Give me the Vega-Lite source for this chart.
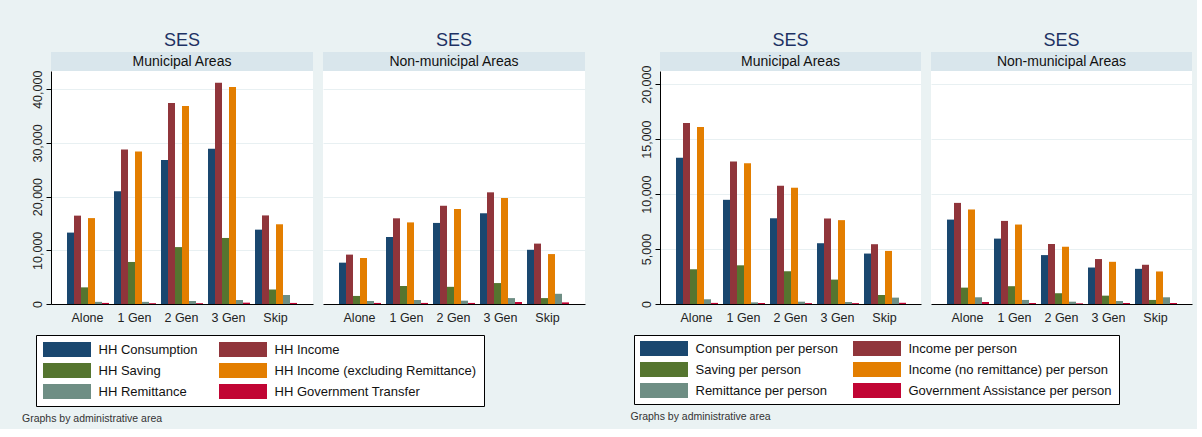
{
  "$schema": "https://vega.github.io/schema/vega-lite/v6.json",
  "background": "#eaf2f3",
  "padding": {"left": 21, "top": 32, "right": 5, "bottom": 5},
  "datasets": {
    "hh": [
      {"area":"Municipal Areas","type":"Alone","m":"HH Consumption","v":13300},
      {"area":"Municipal Areas","type":"Alone","m":"HH Income","v":16460},
      {"area":"Municipal Areas","type":"Alone","m":"HH Saving","v":3100},
      {"area":"Municipal Areas","type":"Alone","m":"HH Income (excluding Remittance)","v":16000},
      {"area":"Municipal Areas","type":"Alone","m":"HH Remittance","v":400},
      {"area":"Municipal Areas","type":"Alone","m":"HH Government Transfer","v":200},
      {"area":"Municipal Areas","type":"1 Gen","m":"HH Consumption","v":21000},
      {"area":"Municipal Areas","type":"1 Gen","m":"HH Income","v":28800},
      {"area":"Municipal Areas","type":"1 Gen","m":"HH Saving","v":7830},
      {"area":"Municipal Areas","type":"1 Gen","m":"HH Income (excluding Remittance)","v":28400},
      {"area":"Municipal Areas","type":"1 Gen","m":"HH Remittance","v":400},
      {"area":"Municipal Areas","type":"1 Gen","m":"HH Government Transfer","v":150},
      {"area":"Municipal Areas","type":"2 Gen","m":"HH Consumption","v":26800},
      {"area":"Municipal Areas","type":"2 Gen","m":"HH Income","v":37450},
      {"area":"Municipal Areas","type":"2 Gen","m":"HH Saving","v":10600},
      {"area":"Municipal Areas","type":"2 Gen","m":"HH Income (excluding Remittance)","v":36900},
      {"area":"Municipal Areas","type":"2 Gen","m":"HH Remittance","v":560},
      {"area":"Municipal Areas","type":"2 Gen","m":"HH Government Transfer","v":150},
      {"area":"Municipal Areas","type":"3 Gen","m":"HH Consumption","v":28900},
      {"area":"Municipal Areas","type":"3 Gen","m":"HH Income","v":41200},
      {"area":"Municipal Areas","type":"3 Gen","m":"HH Saving","v":12300},
      {"area":"Municipal Areas","type":"3 Gen","m":"HH Income (excluding Remittance)","v":40400},
      {"area":"Municipal Areas","type":"3 Gen","m":"HH Remittance","v":750},
      {"area":"Municipal Areas","type":"3 Gen","m":"HH Government Transfer","v":250},
      {"area":"Municipal Areas","type":"Skip","m":"HH Consumption","v":13850},
      {"area":"Municipal Areas","type":"Skip","m":"HH Income","v":16500},
      {"area":"Municipal Areas","type":"Skip","m":"HH Saving","v":2700},
      {"area":"Municipal Areas","type":"Skip","m":"HH Income (excluding Remittance)","v":14850},
      {"area":"Municipal Areas","type":"Skip","m":"HH Remittance","v":1680},
      {"area":"Municipal Areas","type":"Skip","m":"HH Government Transfer","v":200},
      {"area":"Non-municipal Areas","type":"Alone","m":"HH Consumption","v":7700},
      {"area":"Non-municipal Areas","type":"Alone","m":"HH Income","v":9200},
      {"area":"Non-municipal Areas","type":"Alone","m":"HH Saving","v":1500},
      {"area":"Non-municipal Areas","type":"Alone","m":"HH Income (excluding Remittance)","v":8570},
      {"area":"Non-municipal Areas","type":"Alone","m":"HH Remittance","v":560},
      {"area":"Non-municipal Areas","type":"Alone","m":"HH Government Transfer","v":200},
      {"area":"Non-municipal Areas","type":"1 Gen","m":"HH Consumption","v":12480},
      {"area":"Non-municipal Areas","type":"1 Gen","m":"HH Income","v":15960},
      {"area":"Non-municipal Areas","type":"1 Gen","m":"HH Saving","v":3350},
      {"area":"Non-municipal Areas","type":"1 Gen","m":"HH Income (excluding Remittance)","v":15200},
      {"area":"Non-municipal Areas","type":"1 Gen","m":"HH Remittance","v":750},
      {"area":"Non-municipal Areas","type":"1 Gen","m":"HH Government Transfer","v":200},
      {"area":"Non-municipal Areas","type":"2 Gen","m":"HH Consumption","v":15100},
      {"area":"Non-municipal Areas","type":"2 Gen","m":"HH Income","v":18300},
      {"area":"Non-municipal Areas","type":"2 Gen","m":"HH Saving","v":3200},
      {"area":"Non-municipal Areas","type":"2 Gen","m":"HH Income (excluding Remittance)","v":17700},
      {"area":"Non-municipal Areas","type":"2 Gen","m":"HH Remittance","v":620},
      {"area":"Non-municipal Areas","type":"2 Gen","m":"HH Government Transfer","v":200},
      {"area":"Non-municipal Areas","type":"3 Gen","m":"HH Consumption","v":16900},
      {"area":"Non-municipal Areas","type":"3 Gen","m":"HH Income","v":20800},
      {"area":"Non-municipal Areas","type":"3 Gen","m":"HH Saving","v":3900},
      {"area":"Non-municipal Areas","type":"3 Gen","m":"HH Income (excluding Remittance)","v":19750},
      {"area":"Non-municipal Areas","type":"3 Gen","m":"HH Remittance","v":1100},
      {"area":"Non-municipal Areas","type":"3 Gen","m":"HH Government Transfer","v":370},
      {"area":"Non-municipal Areas","type":"Skip","m":"HH Consumption","v":10100},
      {"area":"Non-municipal Areas","type":"Skip","m":"HH Income","v":11250},
      {"area":"Non-municipal Areas","type":"Skip","m":"HH Saving","v":1100},
      {"area":"Non-municipal Areas","type":"Skip","m":"HH Income (excluding Remittance)","v":9300},
      {"area":"Non-municipal Areas","type":"Skip","m":"HH Remittance","v":1900},
      {"area":"Non-municipal Areas","type":"Skip","m":"HH Government Transfer","v":300}
    ],
    "pp": [
      {"area":"Municipal Areas","type":"Alone","m":"Consumption per person","v":13300},
      {"area":"Municipal Areas","type":"Alone","m":"Income per person","v":16460},
      {"area":"Municipal Areas","type":"Alone","m":"Saving per person","v":3160},
      {"area":"Municipal Areas","type":"Alone","m":"Income (no remittance) per person","v":16100},
      {"area":"Municipal Areas","type":"Alone","m":"Remittance per person","v":430},
      {"area":"Municipal Areas","type":"Alone","m":"Government Assistance per person","v":100},
      {"area":"Municipal Areas","type":"1 Gen","m":"Consumption per person","v":9480},
      {"area":"Municipal Areas","type":"1 Gen","m":"Income per person","v":12970},
      {"area":"Municipal Areas","type":"1 Gen","m":"Saving per person","v":3520},
      {"area":"Municipal Areas","type":"1 Gen","m":"Income (no remittance) per person","v":12800},
      {"area":"Municipal Areas","type":"1 Gen","m":"Remittance per person","v":150},
      {"area":"Municipal Areas","type":"1 Gen","m":"Government Assistance per person","v":90},
      {"area":"Municipal Areas","type":"2 Gen","m":"Consumption per person","v":7800},
      {"area":"Municipal Areas","type":"2 Gen","m":"Income per person","v":10760},
      {"area":"Municipal Areas","type":"2 Gen","m":"Saving per person","v":2980},
      {"area":"Municipal Areas","type":"2 Gen","m":"Income (no remittance) per person","v":10580},
      {"area":"Municipal Areas","type":"2 Gen","m":"Remittance per person","v":210},
      {"area":"Municipal Areas","type":"2 Gen","m":"Government Assistance per person","v":80},
      {"area":"Municipal Areas","type":"3 Gen","m":"Consumption per person","v":5530},
      {"area":"Municipal Areas","type":"3 Gen","m":"Income per person","v":7780},
      {"area":"Municipal Areas","type":"3 Gen","m":"Saving per person","v":2220},
      {"area":"Municipal Areas","type":"3 Gen","m":"Income (no remittance) per person","v":7630},
      {"area":"Municipal Areas","type":"3 Gen","m":"Remittance per person","v":180},
      {"area":"Municipal Areas","type":"3 Gen","m":"Government Assistance per person","v":80},
      {"area":"Municipal Areas","type":"Skip","m":"Consumption per person","v":4590},
      {"area":"Municipal Areas","type":"Skip","m":"Income per person","v":5440},
      {"area":"Municipal Areas","type":"Skip","m":"Saving per person","v":820},
      {"area":"Municipal Areas","type":"Skip","m":"Income (no remittance) per person","v":4830},
      {"area":"Municipal Areas","type":"Skip","m":"Remittance per person","v":580},
      {"area":"Municipal Areas","type":"Skip","m":"Government Assistance per person","v":110},
      {"area":"Non-municipal Areas","type":"Alone","m":"Consumption per person","v":7680},
      {"area":"Non-municipal Areas","type":"Alone","m":"Income per person","v":9200},
      {"area":"Non-municipal Areas","type":"Alone","m":"Saving per person","v":1490},
      {"area":"Non-municipal Areas","type":"Alone","m":"Income (no remittance) per person","v":8600},
      {"area":"Non-municipal Areas","type":"Alone","m":"Remittance per person","v":610},
      {"area":"Non-municipal Areas","type":"Alone","m":"Government Assistance per person","v":180},
      {"area":"Non-municipal Areas","type":"1 Gen","m":"Consumption per person","v":5950},
      {"area":"Non-municipal Areas","type":"1 Gen","m":"Income per person","v":7560},
      {"area":"Non-municipal Areas","type":"1 Gen","m":"Saving per person","v":1620},
      {"area":"Non-municipal Areas","type":"1 Gen","m":"Income (no remittance) per person","v":7230},
      {"area":"Non-municipal Areas","type":"1 Gen","m":"Remittance per person","v":370},
      {"area":"Non-municipal Areas","type":"1 Gen","m":"Government Assistance per person","v":90},
      {"area":"Non-municipal Areas","type":"2 Gen","m":"Consumption per person","v":4450},
      {"area":"Non-municipal Areas","type":"2 Gen","m":"Income per person","v":5460},
      {"area":"Non-municipal Areas","type":"2 Gen","m":"Saving per person","v":980},
      {"area":"Non-municipal Areas","type":"2 Gen","m":"Income (no remittance) per person","v":5210},
      {"area":"Non-municipal Areas","type":"2 Gen","m":"Remittance per person","v":210},
      {"area":"Non-municipal Areas","type":"2 Gen","m":"Government Assistance per person","v":60},
      {"area":"Non-municipal Areas","type":"3 Gen","m":"Consumption per person","v":3320},
      {"area":"Non-municipal Areas","type":"3 Gen","m":"Income per person","v":4090},
      {"area":"Non-municipal Areas","type":"3 Gen","m":"Saving per person","v":760},
      {"area":"Non-municipal Areas","type":"3 Gen","m":"Income (no remittance) per person","v":3840},
      {"area":"Non-municipal Areas","type":"3 Gen","m":"Remittance per person","v":270},
      {"area":"Non-municipal Areas","type":"3 Gen","m":"Government Assistance per person","v":90},
      {"area":"Non-municipal Areas","type":"Skip","m":"Consumption per person","v":3200},
      {"area":"Non-municipal Areas","type":"Skip","m":"Income per person","v":3570},
      {"area":"Non-municipal Areas","type":"Skip","m":"Saving per person","v":370},
      {"area":"Non-municipal Areas","type":"Skip","m":"Income (no remittance) per person","v":2960},
      {"area":"Non-municipal Areas","type":"Skip","m":"Remittance per person","v":610},
      {"area":"Non-municipal Areas","type":"Skip","m":"Government Assistance per person","v":90}
    ]
  },
  "spacing": 45,
  "resolve": {"scale": {"color": "independent", "y": "independent", "x": "independent", "xOffset": "independent"}, "legend": {"color": "independent"}},
  "hconcat": [
    {
      "title": {"text": "Graphs by administrative area", "orient": "bottom", "anchor": "start", "fontSize": 10.5, "fontWeight": "normal", "color": "#333333", "font": "Liberation Sans", "offset": 7, "dx": -9},
      "spacing": 10,
      "resolve": {"scale": {"color": "shared", "y": "independent", "x": "independent", "xOffset": "independent"}, "legend": {"color": "shared"}},
      "hconcat": [
        {
          "spacing": 0, "bounds": "flush",
          "resolve": {"scale": {"color": "shared"}, "legend": {"color": "shared"}},
          "vconcat": [
            {
              "title": {"text": "SES", "fontSize": 18, "fontWeight": "normal", "color": "#1e3264", "font": "Liberation Sans", "offset": 2, "anchor": "middle", "frame": "group"},
              "width": 262, "height": 19,
              "data": {"values": [{"area": "Municipal Areas"}]},
              "view": {"fill": "#d9e6ec", "stroke": null},
              "mark": {"type": "text", "font": "Liberation Sans", "fontSize": 14, "color": "#111111"},
              "encoding": {"text": {"field": "area", "type": "nominal"}}
            },
            {
              "width": 262, "height": 233,
              "data": {"name": "hh"},
              "transform": [{"filter": "datum.area == 'Municipal Areas'"}],
              "view": {"fill": "white", "stroke": null},
              "mark": {"type": "bar", "width": {"band": 1}},
              "encoding": {
                "x": {"field": "type", "type": "nominal", "sort": ["Alone","1 Gen","2 Gen","3 Gen","Skip"], "scale": {"paddingInner": 0.085, "paddingOuter": 0.31, "round": true},
                      "axis": {"title": null, "ticks": false, "tickSize": 0, "labelAngle": 0, "labelFont": "Liberation Sans", "labelFontSize": 12.5, "labelColor": "#222222", "labelPadding": 7, "domainColor": "black", "grid": false}},
                "xOffset": {"field": "m", "type": "nominal", "sort": ["HH Consumption","HH Income","HH Saving","HH Income (excluding Remittance)","HH Remittance","HH Government Transfer"], "scale": {"paddingInner": 0, "paddingOuter": 0, "round": true}},
                "y": {"field": "v", "type": "quantitative", "scale": {"domain": [0, 43400], "nice": false},
                      "axis": {"title": null, "values": [0, 10000, 20000, 30000, 40000], "format": ",d", "labelAngle": 270, "labelAlign": "center", "labelBaseline": "bottom", "labelFont": "Liberation Sans", "labelFontSize": 12.5, "labelColor": "#222222", "labelPadding": 2, "tickSize": 5, "tickColor": "black", "domainColor": "black", "grid": true, "gridColor": "#e8f0f2"}},
                "color": {"field": "m", "type": "nominal",
                          "scale": {"domain": ["HH Consumption","HH Income","HH Saving","HH Income (excluding Remittance)","HH Remittance","HH Government Transfer"], "range": ["#1a476f","#90353b","#55752f","#e37e00","#6e8e84","#c10534"]},
                          "legend": {"title": null, "orient": "none", "legendX": -15, "legendY": 283, "direction": "horizontal", "columns": 2, "symbolType": "M-3.2,-1H3.2V1H-3.2Z", "symbolSize": 225, "symbolStrokeWidth": 0, "symbolOffset": 16.5, "labelOffset": 24, "labelFont": "Liberation Sans", "labelFontSize": 13, "labelColor": "#111111", "labelLimit": 400, "columnPadding": 21, "rowPadding": 6, "padding": 7, "fillColor": "white", "strokeColor": "black"}}
              }
            }
          ]
        },
        {
          "spacing": 0, "bounds": "flush",
          "resolve": {"scale": {"color": "shared"}, "legend": {"color": "shared"}},
          "vconcat": [
            {
              "title": {"text": "SES", "fontSize": 18, "fontWeight": "normal", "color": "#1e3264", "font": "Liberation Sans", "offset": 2, "anchor": "middle", "frame": "group"},
              "width": 262, "height": 19,
              "data": {"values": [{"area": "Non-municipal Areas"}]},
              "view": {"fill": "#d9e6ec", "stroke": null},
              "mark": {"type": "text", "font": "Liberation Sans", "fontSize": 14, "color": "#111111"},
              "encoding": {"text": {"field": "area", "type": "nominal"}}
            },
            {
              "width": 262, "height": 233,
              "data": {"name": "hh"},
              "transform": [{"filter": "datum.area == 'Non-municipal Areas'"}],
              "view": {"fill": "white", "stroke": null},
              "mark": {"type": "bar", "width": {"band": 1}},
              "encoding": {
                "x": {"field": "type", "type": "nominal", "sort": ["Alone","1 Gen","2 Gen","3 Gen","Skip"], "scale": {"paddingInner": 0.085, "paddingOuter": 0.31, "round": true},
                      "axis": {"title": null, "ticks": false, "tickSize": 0, "labelAngle": 0, "labelFont": "Liberation Sans", "labelFontSize": 12.5, "labelColor": "#222222", "labelPadding": 7, "domainColor": "black", "grid": false}},
                "xOffset": {"field": "m", "type": "nominal", "sort": ["HH Consumption","HH Income","HH Saving","HH Income (excluding Remittance)","HH Remittance","HH Government Transfer"], "scale": {"paddingInner": 0, "paddingOuter": 0, "round": true}},
                "y": {"field": "v", "type": "quantitative", "scale": {"domain": [0, 43400], "nice": false},
                      "axis": {"title": null, "values": [0, 10000, 20000, 30000, 40000], "labels": false, "ticks": false, "domain": false, "grid": true, "gridColor": "#e8f0f2"}},
                "color": {"field": "m", "type": "nominal",
                          "scale": {"domain": ["HH Consumption","HH Income","HH Saving","HH Income (excluding Remittance)","HH Remittance","HH Government Transfer"], "range": ["#1a476f","#90353b","#55752f","#e37e00","#6e8e84","#c10534"]},
                          "legend": {"title": null, "orient": "none", "legendX": -15, "legendY": 283, "direction": "horizontal", "columns": 2, "symbolType": "M-3.2,-1H3.2V1H-3.2Z", "symbolSize": 225, "symbolStrokeWidth": 0, "symbolOffset": 16.5, "labelOffset": 24, "labelFont": "Liberation Sans", "labelFontSize": 13, "labelColor": "#111111", "labelLimit": 400, "columnPadding": 21, "rowPadding": 6, "padding": 7, "fillColor": "white", "strokeColor": "black"}}
              }
            }
          ]
        }
      ]
    },
    {
      "title": {"text": "Graphs by administrative area", "orient": "bottom", "anchor": "start", "fontSize": 10.5, "fontWeight": "normal", "color": "#333333", "font": "Liberation Sans", "offset": 7, "dx": -3},
      "spacing": 10,
      "resolve": {"scale": {"color": "shared", "y": "independent", "x": "independent", "xOffset": "independent"}, "legend": {"color": "shared"}},
      "hconcat": [
        {
          "spacing": 0, "bounds": "flush",
          "resolve": {"scale": {"color": "shared"}, "legend": {"color": "shared"}},
          "vconcat": [
            {
              "title": {"text": "SES", "fontSize": 18, "fontWeight": "normal", "color": "#1e3264", "font": "Liberation Sans", "offset": 2, "anchor": "middle", "frame": "group"},
              "width": 261, "height": 19,
              "data": {"values": [{"area": "Municipal Areas"}]},
              "view": {"fill": "#d9e6ec", "stroke": null},
              "mark": {"type": "text", "font": "Liberation Sans", "fontSize": 14, "color": "#111111"},
              "encoding": {"text": {"field": "area", "type": "nominal"}}
            },
            {
              "width": 261, "height": 233,
              "data": {"name": "pp"},
              "transform": [{"filter": "datum.area == 'Municipal Areas'"}],
              "view": {"fill": "white", "stroke": null},
              "mark": {"type": "bar", "width": {"band": 1}},
              "encoding": {
                "x": {"field": "type", "type": "nominal", "sort": ["Alone","1 Gen","2 Gen","3 Gen","Skip"], "scale": {"paddingInner": 0.085, "paddingOuter": 0.31, "round": true},
                      "axis": {"title": null, "ticks": false, "tickSize": 0, "labelAngle": 0, "labelFont": "Liberation Sans", "labelFontSize": 12.5, "labelColor": "#222222", "labelPadding": 7, "domainColor": "black", "grid": false}},
                "xOffset": {"field": "m", "type": "nominal", "sort": ["Consumption per person","Income per person","Saving per person","Income (no remittance) per person","Remittance per person","Government Assistance per person"], "scale": {"paddingInner": 0, "paddingOuter": 0, "round": true}},
                "y": {"field": "v", "type": "quantitative", "scale": {"domain": [0, 21200], "nice": false},
                      "axis": {"title": null, "values": [0, 5000, 10000, 15000, 20000], "format": ",d", "labelAngle": 270, "labelAlign": "center", "labelBaseline": "bottom", "labelFont": "Liberation Sans", "labelFontSize": 12.5, "labelColor": "#222222", "labelPadding": 2, "tickSize": 5, "tickColor": "black", "domainColor": "black", "grid": true, "gridColor": "#e8f0f2"}},
                "color": {"field": "m", "type": "nominal",
                          "scale": {"domain": ["Consumption per person","Income per person","Saving per person","Income (no remittance) per person","Remittance per person","Government Assistance per person"], "range": ["#1a476f","#90353b","#55752f","#e37e00","#6e8e84","#c10534"]},
                          "legend": {"title": null, "orient": "none", "legendX": -26, "legendY": 283, "direction": "horizontal", "columns": 2, "symbolType": "M-3.2,-1H3.2V1H-3.2Z", "symbolSize": 225, "symbolStrokeWidth": 0, "symbolOffset": 16.5, "labelOffset": 24, "labelFont": "Liberation Sans", "labelFontSize": 13, "labelColor": "#111111", "labelLimit": 400, "columnPadding": 15, "rowPadding": 6, "padding": 6, "fillColor": "white", "strokeColor": "black"}}
              }
            }
          ]
        },
        {
          "spacing": 0, "bounds": "flush",
          "resolve": {"scale": {"color": "shared"}, "legend": {"color": "shared"}},
          "vconcat": [
            {
              "title": {"text": "SES", "fontSize": 18, "fontWeight": "normal", "color": "#1e3264", "font": "Liberation Sans", "offset": 2, "anchor": "middle", "frame": "group"},
              "width": 261, "height": 19,
              "data": {"values": [{"area": "Non-municipal Areas"}]},
              "view": {"fill": "#d9e6ec", "stroke": null},
              "mark": {"type": "text", "font": "Liberation Sans", "fontSize": 14, "color": "#111111"},
              "encoding": {"text": {"field": "area", "type": "nominal"}}
            },
            {
              "width": 261, "height": 233,
              "data": {"name": "pp"},
              "transform": [{"filter": "datum.area == 'Non-municipal Areas'"}],
              "view": {"fill": "white", "stroke": null},
              "mark": {"type": "bar", "width": {"band": 1}},
              "encoding": {
                "x": {"field": "type", "type": "nominal", "sort": ["Alone","1 Gen","2 Gen","3 Gen","Skip"], "scale": {"paddingInner": 0.085, "paddingOuter": 0.31, "round": true},
                      "axis": {"title": null, "ticks": false, "tickSize": 0, "labelAngle": 0, "labelFont": "Liberation Sans", "labelFontSize": 12.5, "labelColor": "#222222", "labelPadding": 7, "domainColor": "black", "grid": false}},
                "xOffset": {"field": "m", "type": "nominal", "sort": ["Consumption per person","Income per person","Saving per person","Income (no remittance) per person","Remittance per person","Government Assistance per person"], "scale": {"paddingInner": 0, "paddingOuter": 0, "round": true}},
                "y": {"field": "v", "type": "quantitative", "scale": {"domain": [0, 21200], "nice": false},
                      "axis": {"title": null, "values": [0, 5000, 10000, 15000, 20000], "labels": false, "ticks": false, "domain": false, "grid": true, "gridColor": "#e8f0f2"}},
                "color": {"field": "m", "type": "nominal",
                          "scale": {"domain": ["Consumption per person","Income per person","Saving per person","Income (no remittance) per person","Remittance per person","Government Assistance per person"], "range": ["#1a476f","#90353b","#55752f","#e37e00","#6e8e84","#c10534"]},
                          "legend": {"title": null, "orient": "none", "legendX": -26, "legendY": 283, "direction": "horizontal", "columns": 2, "symbolType": "M-3.2,-1H3.2V1H-3.2Z", "symbolSize": 225, "symbolStrokeWidth": 0, "symbolOffset": 16.5, "labelOffset": 24, "labelFont": "Liberation Sans", "labelFontSize": 13, "labelColor": "#111111", "labelLimit": 400, "columnPadding": 15, "rowPadding": 6, "padding": 6, "fillColor": "white", "strokeColor": "black"}}
              }
            }
          ]
        }
      ]
    }
  ],
  "config": {"view": {"stroke": null}, "font": "Liberation Sans", "scale": {"offsetBandPaddingInner": 0, "offsetBandPaddingOuter": 0}}
}
